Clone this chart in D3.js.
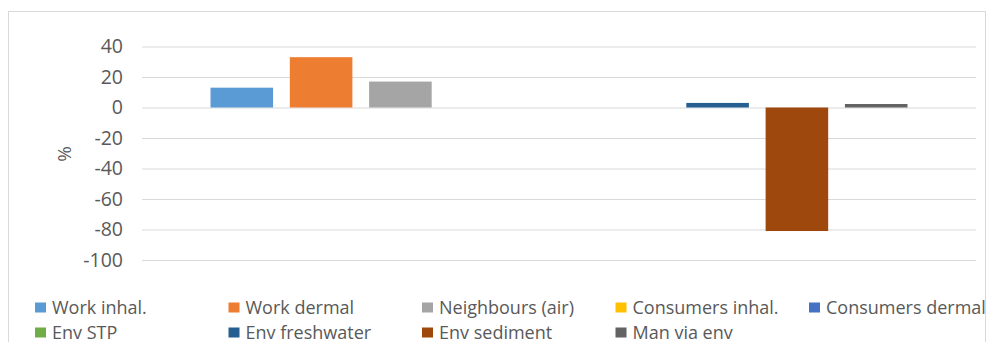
<!DOCTYPE html>
<html>
<head>
<meta charset="utf-8">
<script src="https://cdn.jsdelivr.net/npm/d3@7"></script>
<style>
  html, body { margin: 0; padding: 0; background: #fff; }
  svg { display: block; }
  text { font-family: "Open Sans", "Noto Sans", sans-serif; fill: #595959; }
</style>
</head>
<body>
<svg id="chart" width="990" height="342"></svg>
<script>
// Change in exposure per route, percent
const series = ["Work inhal.", "Work dermal", "Neighbours (air)", "Consumers inhal.", "Consumers dermal",
                "Env STP", "Env freshwater", "Env sediment", "Man via env"];
const values = [13, 33, 17, 0, 0, 0, 3, -81, 2.3];
const colors = ["#5B9BD5", "#ED7D31", "#A5A5A5", "#FFC000", "#4472C4",
                "#70AD47", "#255E91", "#9E480E", "#636363"];
const yTicks = [40, 20, 0, -20, -40, -60, -80, -100];
const yLabel = "%";

const svg = d3.select("#chart");
const plot = { left: 142, right: 976, top: 46.5, bottom: 260 };

// chart frame
svg.append("rect")
  .attr("x", 8.5).attr("y", 11.5)
  .attr("width", 977).attr("height", 340)
  .attr("fill", "#fff").attr("stroke", "#d9d9d9").attr("stroke-width", 1);

const x = d3.scaleBand()
  .domain(series)
  .range([plot.left, plot.right])
  .paddingInner(0.211)
  .paddingOuter(0.864);

const y = d3.scaleLinear()
  .domain([-100, 40])
  .range([plot.bottom, plot.top]);

// gridlines + tick labels (plain hyphen for negatives)
const yAxis = d3.axisLeft(y)
  .tickValues(yTicks)
  .tickSize(-(plot.right - plot.left))
  .tickPadding(19)
  .tickFormat(d => String(d));

const gy = svg.append("g")
  .attr("transform", `translate(${plot.left},0)`)
  .call(yAxis);
gy.select(".domain").remove();
gy.selectAll(".tick line").attr("stroke", "#d9d9d9").attr("stroke-width", 1);
gy.selectAll(".tick text")
  .attr("font-size", 19.5)
  .attr("fill", "#595959")
  .style("font-family", "'Open Sans', 'Noto Sans', sans-serif");

// axis title
svg.append("text")
  .attr("transform", "translate(71,154) rotate(-90)")
  .attr("text-anchor", "middle")
  .attr("font-size", 19)
  .text(yLabel);

// bars
svg.append("g").selectAll("rect")
  .data(series)
  .join("rect")
  .attr("x", d => x(d))
  .attr("width", x.bandwidth())
  .attr("y", (d, i) => y(Math.max(0, values[i])))
  .attr("height", (d, i) => Math.abs(y(values[i]) - y(0)))
  .attr("fill", (d, i) => colors[i]);

// legend, 5 columns x 2 rows
const legend = svg.append("g");
const colX = d3.scaleLinear().domain([0, 4]).range([35, 809]);
const rowY = [302.5, 327.5];
series.forEach((s, i) => {
  const c = i % 5, r = Math.floor(i / 5);
  const g = legend.append("g").attr("transform", `translate(${colX(c)},${rowY[r]})`);
  g.append("rect").attr("width", 11).attr("height", 10).attr("fill", colors[i]);
  g.append("text")
    .attr("x", 17).attr("y", 11)
    .attr("font-size", 18)
    .text(s);
});
</script>
</body>
</html>
